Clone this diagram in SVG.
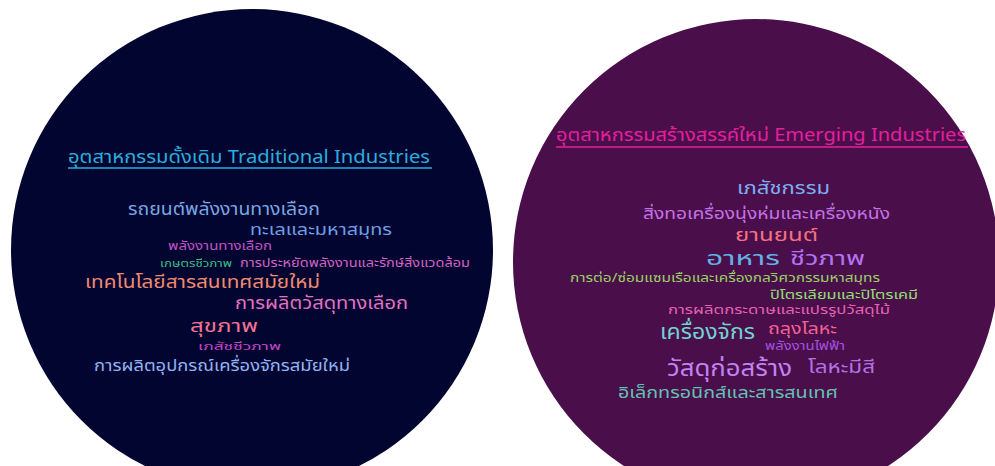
<svg xmlns="http://www.w3.org/2000/svg" width="995" height="466" viewBox="0 0 995 466">
<style>
text{font-family:"Noto Sans Thai","Noto Sans","DejaVu Sans",sans-serif;}
</style>
<rect width="995" height="466" fill="#ffffff"/>
<g id="traditional">
<circle cx="252" cy="250" r="241" fill="#020530"/>
<text x="68" y="163" font-size="18" fill="#2aaedc" textLength="362" lengthAdjust="spacingAndGlyphs">อุตสาหกรรมดั้งเดิม Traditional Industries</text>
<line x1="68" y1="168" x2="432" y2="168" stroke="#2aaedc" stroke-width="1.5"/>
<text x="128" y="215" font-size="17" fill="#7aa6e2" textLength="192" lengthAdjust="spacingAndGlyphs">รถยนต์พลังงานทางเลือก</text>
<text x="250" y="235" font-size="15" fill="#6f9ee4" textLength="142" lengthAdjust="spacingAndGlyphs">ทะเลและมหาสมุทร</text>
<text x="168" y="250" font-size="12" fill="#c052c6" textLength="104" lengthAdjust="spacingAndGlyphs">พลังงานทางเลือก</text>
<text x="160" y="267" font-size="10" fill="#3cbf86" textLength="72" lengthAdjust="spacingAndGlyphs">เกษตรชีวภาพ</text>
<text x="240" y="267" font-size="12" fill="#d262c4" textLength="230" lengthAdjust="spacingAndGlyphs">การประหยัดพลังงานและรักษ์สิ่งแวดล้อม</text>
<text x="85" y="288" font-size="18" fill="#f08a72" textLength="235" lengthAdjust="spacingAndGlyphs">เทคโนโลยีสารสนเทศสมัยใหม่</text>
<text x="235" y="309" font-size="17" fill="#e272c2" textLength="173" lengthAdjust="spacingAndGlyphs">การผลิตวัสดุทางเลือก</text>
<text x="190" y="332" font-size="17" fill="#f27294" textLength="68" lengthAdjust="spacingAndGlyphs">สุขภาพ</text>
<text x="198" y="350" font-size="11" fill="#c444c4" textLength="83" lengthAdjust="spacingAndGlyphs">เภสัชชีวภาพ</text>
<text x="94" y="371" font-size="16" fill="#92b2f2" textLength="256" lengthAdjust="spacingAndGlyphs">การผลิตอุปกรณ์เครื่องจักรสมัยใหม่</text>
</g>
<g id="emerging">
<circle cx="756" cy="262" r="243" fill="#4a0e4a"/>
<text x="556" y="141" font-size="18" fill="#e4209c" textLength="410" lengthAdjust="spacingAndGlyphs">อุตสาหกรรมสร้างสรรค์ใหม่ Emerging Industries</text>
<line x1="556" y1="147" x2="968" y2="147" stroke="#e4209c" stroke-width="1.5"/>
<text x="737" y="194" font-size="17" fill="#7ab0f2" textLength="93" lengthAdjust="spacingAndGlyphs">เภสัชกรรม</text>
<text x="643" y="219" font-size="16" fill="#c272e4" textLength="247" lengthAdjust="spacingAndGlyphs">สิ่งทอเครื่องนุ่งห่มและเครื่องหนัง</text>
<text x="735" y="241" font-size="17" fill="#f27282" textLength="83" lengthAdjust="spacingAndGlyphs">ยานยนต์</text>
<text x="706" y="265" font-size="20" fill="#62b2e4" textLength="74" lengthAdjust="spacingAndGlyphs">อาหาร</text>
<text x="790" y="265" font-size="20" fill="#b272f2" textLength="75" lengthAdjust="spacingAndGlyphs">ชีวภาพ</text>
<text x="570" y="282" font-size="12" fill="#98d266" textLength="310" lengthAdjust="spacingAndGlyphs">การต่อ/ซ่อมแซมเรือและเครื่องกลวิศวกรรมหาสมุทร</text>
<text x="770" y="299" font-size="13" fill="#92e070" textLength="148" lengthAdjust="spacingAndGlyphs">ปิโตรเลียมและปิโตรเคมี</text>
<text x="668" y="314" font-size="13" fill="#e462b2" textLength="222" lengthAdjust="spacingAndGlyphs">การผลิตกระดาษและแปรรูปวัสดุไม้</text>
<text x="660" y="339" font-size="21" fill="#72d2d2" textLength="95" lengthAdjust="spacingAndGlyphs">เครื่องจักร</text>
<text x="768" y="334" font-size="15" fill="#f26294" textLength="69" lengthAdjust="spacingAndGlyphs">ถลุงโลหะ</text>
<text x="765" y="350" font-size="12" fill="#a452e2" textLength="80" lengthAdjust="spacingAndGlyphs">พลังงานไฟฟ้า</text>
<text x="667" y="376" font-size="23" fill="#c282f2" textLength="125" lengthAdjust="spacingAndGlyphs">วัสดุก่อสร้าง</text>
<text x="808" y="373" font-size="18" fill="#b272e2" textLength="67" lengthAdjust="spacingAndGlyphs">โลหะมีสี</text>
<text x="618" y="398" font-size="16" fill="#62c2b2" textLength="220" lengthAdjust="spacingAndGlyphs">อิเล็กทรอนิกส์และสารสนเทศ</text>
</g>
</svg>
